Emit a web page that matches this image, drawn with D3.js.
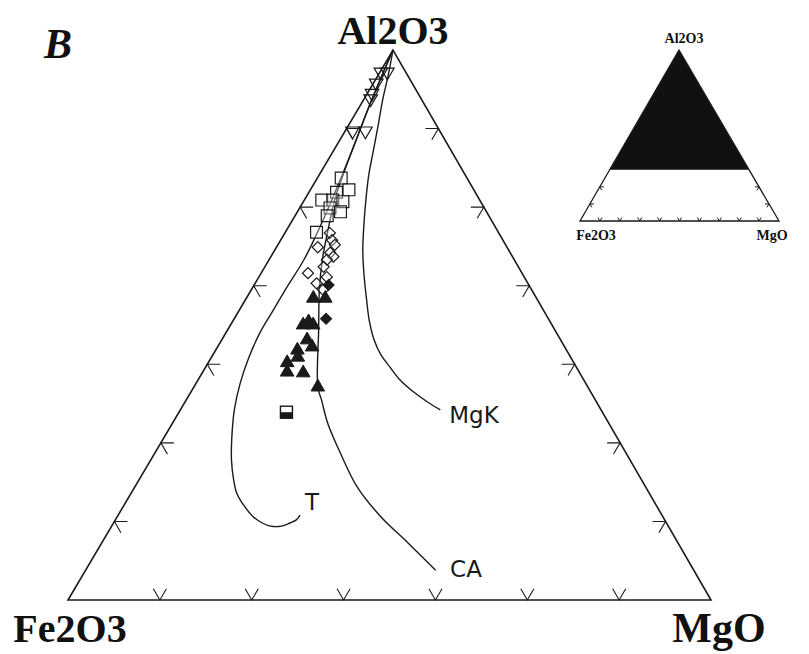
<!DOCTYPE html>
<html><head><meta charset="utf-8">
<script src="https://cdn.jsdelivr.net/npm/d3@7"></script>
<style>body{margin:0;background:#fff} svg{display:block}</style>
</head><body>
<svg id="c" width="809" height="654"></svg>
<script>
// ---- Data: [Al2O3 %, MgO %]  (Fe2O3 = 100 - Al2O3 - MgO) ----
const openDownTriangles = [[97.2,0.1],[97.2,0.8],[95.8,0.3],[94.5,0.5],[93.8,0.7],[89.7,0.8],[89.7,2.2]];
const openSquares = [[83.7,2.6],[82.2,4.2],[81.9,3.0],[80.9,1.9],[80.9,3.1],[80.7,4.3],[79.9,3.3],[79.4,4.7],[78.9,3.5],[76.8,3.4]];
const openDiamonds = [[76.7,4.9],[75.8,5.6],[75.2,6.2],[74.9,4.5],[74.2,6.2],[73.7,6.8],[73.3,6.3],[72.4,6.4],[71.6,5.1],[71.1,7.4],[70.3,6.7],[69.5,7.8]];
const filledDiamonds = [[70.1,8.1],[65.8,10.0]];
const filledTriangles = [[68.4,7.3],[68.4,8.6],[65.4,8.3],[65.0,7.9],[65.0,9.0],[63.1,9.3],[62.2,10.3],[61.8,8.9],[60.9,9.4],[60.2,8.6],[59.0,9.2],[58.9,11.0],[57.1,13.5]];
const halfFilledSquares = [[53.9,11.7]];
const curveT = [[100,0],[93.6,0.9],[87.3,2.0],[82.2,2.8],[77.7,3.4],[73.3,3.8],[69.8,3.7],[66.9,3.7],[64.0,3.7],[60.8,4.1],[57.6,4.8],[54.4,5.8],[51.3,7.1],[47.8,8.8],[45.3,10.3],[43.6,11.5],[42.0,13.1],[40.6,14.8],[39.8,16.2],[39.4,17.3],[39.4,18.5],[39.8,19.2],[40.2,19.7],[40.8,19.8]];
const curveCA = [[100,0],[93.6,0.9],[87.3,2.0],[84.1,2.6],[80.9,3.3],[77.1,4.5],[73.3,5.8],[69.5,7.4],[64.4,9.9],[57.1,13.5],[55.5,14.7],[52.5,16.9],[48.7,20.2],[44.4,24.2],[40.6,28.7],[37.3,33.3],[33.8,38.1]];
const curveMgK = [[100,0],[96.8,1.1],[93.6,2.1],[90.5,3.2],[87.3,4.3],[84.1,5.4],[80.9,6.7],[77.7,8.1],[74.5,9.6],[71.4,11.3],[68.2,13.2],[65.6,14.8],[63.1,16.6],[61.2,18.3],[59.7,20.0],[58.0,22.0],[56.5,24.2],[55.2,26.4],[54.2,28.3]];
const curveNames = ["T","CA","MgK"];
const apexNames = ["Al2O3","Fe2O3","MgO"];
const sideTicks = [40,50,60,70,80,90];   // Al2O3 % on both sloping sides
const baseTicks = [10,20,30,40,50,60];   // MgO % along the Al2O3 = 30 base
const insetBaseTicks = [10,20,30,40,50,60,70,80,90];
const insetSideTicks = [10,20];
const insetCut = 30;                      // Al2O3 lower limit of the enlarged field
const panelLabel = "B";

// ---- Layout ----
const svg = d3.select("#c");
const ink = "#1a1a1a";
const L=[68,600], R=[711,600], A=[393,50];
const aS = d3.scaleLinear().domain([30,100]).range([0,1]);
const mS = d3.scaleLinear().domain([0,70]).range([0,1]);
const xA = d3.scaleLinear().domain([0,1]).range([0, A[0]-L[0]]);
const xM = d3.scaleLinear().domain([0,1]).range([0, R[0]-L[0]]);
const yS = d3.scaleLinear().domain([0,1]).range([L[1], A[1]]);
function proj(d){ const a=aS(d[0]), m=mS(d[1]); return [L[0]+xA(a)+xM(m), yS(a)]; }

// Triangle frame
svg.append("path").attr("d", d3.line()([L,R,A,L]) + "Z")
  .attr("fill","none").attr("stroke",ink).attr("stroke-width",1.6).attr("stroke-linejoin","miter");

// Ticks
function unit(p,q){ const dx=q[0]-p[0], dy=q[1]-p[1], n=Math.hypot(dx,dy); return [dx/n, dy/n]; }
const tl = 13;
const uLA = unit(L,A), uRA = unit(R,A), uLR = unit(L,R), uAR = unit(A,R), uAL = unit(A,L), uRL = unit(R,L);
const tickPaths = [];
baseTicks.forEach(v => { const p = proj([30, v]);
  tickPaths.push([[p[0]+uRA[0]*tl, p[1]+uRA[1]*tl], p, [p[0]+uLA[0]*tl, p[1]+uLA[1]*tl]]); });
sideTicks.forEach(v => { const p = proj([v, 0]);
  tickPaths.push([[p[0]+uLR[0]*tl, p[1]+uLR[1]*tl], p, [p[0]+uAR[0]*tl, p[1]+uAR[1]*tl]]); });
sideTicks.forEach(v => { const p = proj([v, 100-v]);
  tickPaths.push([[p[0]+uRL[0]*tl, p[1]+uRL[1]*tl], p, [p[0]+uAL[0]*tl, p[1]+uAL[1]*tl]]); });
svg.append("g").selectAll("path").data(tickPaths).join("path")
  .attr("d", d => d3.line()(d)).attr("fill","none").attr("stroke",ink).attr("stroke-width",1.1);

// Curves
const curveLine = d3.line().curve(d3.curveCatmullRom.alpha(0.5));
[curveT, curveCA, curveMgK].forEach(c => {
  svg.append("path").attr("d", curveLine(c.map(proj)))
    .attr("fill","none").attr("stroke",ink).attr("stroke-width",1.4);
});
const curveLabelPos = [[312,510],[466,577],[474,423]];
svg.append("g").selectAll("text").data(curveNames).join("text")
  .attr("x",(d,i)=>curveLabelPos[i][0]).attr("y",(d,i)=>curveLabelPos[i][1])
  .attr("text-anchor","middle").attr("font-family","DejaVu Sans, sans-serif")
  .attr("font-size",23).attr("fill",ink).text(d=>d);

// Symbols
const g = svg.append("g");
const tri = d3.symbol().type(d3.symbolTriangle).size(80)();
const sq = d3.symbol().type(d3.symbolSquare).size(140)();
const dia = d3.symbol().type(d3.symbolSquare).size(62)();
g.selectAll(".dt").data(openDownTriangles).join("path")
  .attr("d", tri).attr("transform", d => { const p=proj(d); return `translate(${p[0]},${p[1]}) rotate(180)`; })
  .attr("fill","none").attr("stroke",ink).attr("stroke-width",1.2);
g.selectAll(".os").data(openSquares).join("path")
  .attr("d", sq).attr("transform", d => { const p=proj(d); return `translate(${p[0]},${p[1]})`; })
  .attr("fill","#fff").attr("fill-opacity",0.35).attr("stroke",ink).attr("stroke-width",1.2);
g.selectAll(".od").data(openDiamonds).join("path")
  .attr("d", dia).attr("transform", d => { const p=proj(d); return `translate(${p[0]},${p[1]}) rotate(45)`; })
  .attr("fill","#fff").attr("fill-opacity",0.35).attr("stroke",ink).attr("stroke-width",1.2);
g.selectAll(".fd").data(filledDiamonds).join("path")
  .attr("d", dia).attr("transform", d => { const p=proj(d); return `translate(${p[0]},${p[1]}) rotate(45)`; })
  .attr("fill",ink).attr("stroke",ink).attr("stroke-width",1);
g.selectAll(".ft").data(filledTriangles).join("path")
  .attr("d", tri).attr("transform", d => { const p=proj(d); return `translate(${p[0]},${p[1]})`; })
  .attr("fill",ink).attr("stroke",ink).attr("stroke-width",1);
halfFilledSquares.forEach(d => { const p = proj(d);
  g.append("rect").attr("x",p[0]-6).attr("y",p[1]-6).attr("width",12).attr("height",12)
    .attr("fill","#fff").attr("stroke",ink).attr("stroke-width",1.4);
  g.append("rect").attr("x",p[0]-6).attr("y",p[1]).attr("width",12).attr("height",6).attr("fill",ink);
});

// Apex labels
const serif = "Liberation Serif, Times New Roman, serif";
const apexPos = [[393,44],[70,642],[719,642]];
svg.append("g").selectAll("text").data(apexNames).join("text")
  .attr("x",(d,i)=>apexPos[i][0]).attr("y",(d,i)=>apexPos[i][1])
  .attr("text-anchor","middle").attr("font-family",serif).attr("font-weight","bold")
  .attr("font-size",(d,i)=> i===2 ? 42 : 40).attr("fill","#111").text(d=>d);
svg.append("text").attr("x",44).attr("y",58).attr("font-family",serif)
  .attr("font-weight","bold").attr("font-style","italic").attr("font-size",42).attr("fill","#111").text(panelLabel);

// Inset
const Li=[580,221], Ri=[779,221], Ai=[679,50];
const iA = d3.scaleLinear().domain([0,100]).range([0,1]);
function projI(al, mg){ const a=iA(al), m=iA(mg); return [Li[0]+(Ai[0]-Li[0])*a+(Ri[0]-Li[0])*m, Li[1]+(Ai[1]-Li[1])*a]; }
const ins = svg.append("g");
ins.append("path").attr("d", d3.line()([projI(100,0), projI(insetCut,0), projI(insetCut,100-insetCut)])+"Z").attr("fill","#111");
ins.append("path").attr("d", d3.line()([Li,Ri,Ai,Li])+"Z").attr("fill","none").attr("stroke",ink).attr("stroke-width",1.3);
const it = 4;
const insetTickPaths = [];
insetBaseTicks.forEach(v => { const p = projI(0, v);
  insetTickPaths.push([[p[0]+uRA[0]*it, p[1]+uRA[1]*it], p, [p[0]+uLA[0]*it, p[1]+uLA[1]*it]]); });
insetSideTicks.forEach(v => { const p = projI(v, 0);
  insetTickPaths.push([[p[0]+uLR[0]*it, p[1]+uLR[1]*it], p, [p[0]+uAR[0]*it, p[1]+uAR[1]*it]]);
  const q = projI(v, 100-v);
  insetTickPaths.push([[q[0]+uRL[0]*it, q[1]+uRL[1]*it], q, [q[0]+uAL[0]*it, q[1]+uAL[1]*it]]); });
ins.selectAll(".it").data(insetTickPaths).join("path").attr("d", d=>d3.line()(d))
  .attr("fill","none").attr("stroke",ink).attr("stroke-width",1);
const insetLabelPos = [[684,43],[596,240],[772,240]];
ins.selectAll("text").data(apexNames).join("text")
  .attr("x",(d,i)=>insetLabelPos[i][0]).attr("y",(d,i)=>insetLabelPos[i][1])
  .attr("text-anchor","middle").attr("font-family",serif).attr("font-weight","bold")
  .attr("font-size",14).attr("fill","#111").text(d=>d);
</script>
</body></html>
